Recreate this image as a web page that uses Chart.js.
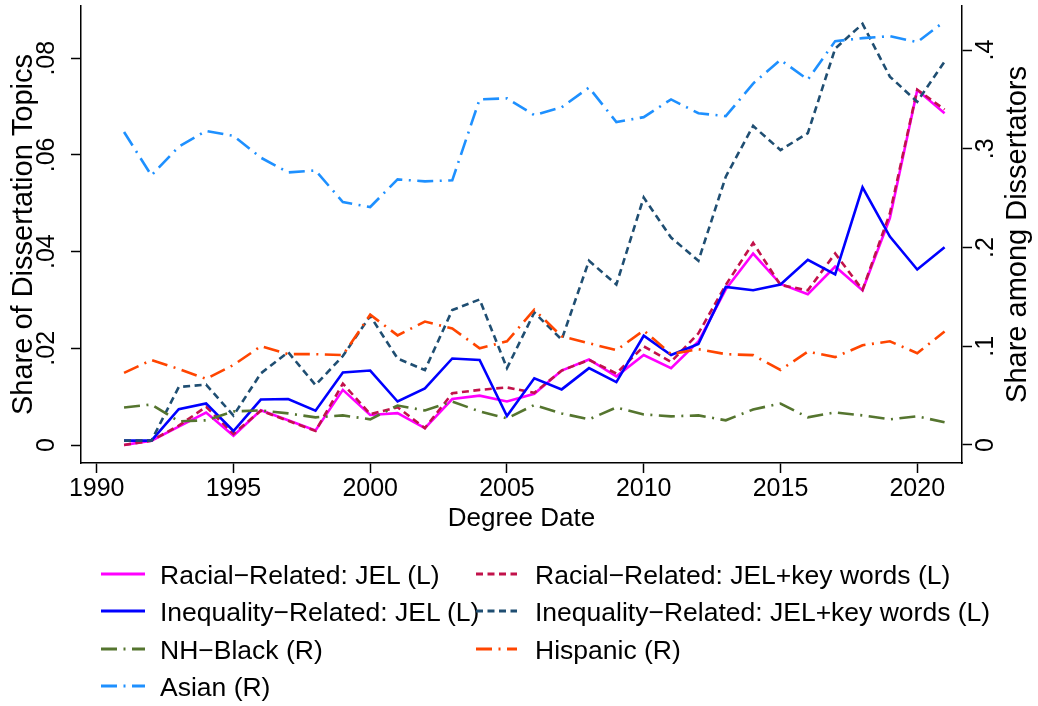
<!DOCTYPE html>
<html>
<head>
<meta charset="utf-8">
<title>Share of Dissertation Topics and Dissertators</title>
<script src="https://cdn.jsdelivr.net/npm/chart.js@4.4.1/dist/chart.umd.min.js"></script>
<style>
    body { margin: 0; background: #fff; }
    #wrap {
        position: relative;
        width: 1038px;
        height: 706px;
        font-family: 'Liberation Sans', Arial, Helvetica, sans-serif;
        color: #000;
    }
    #chart { position: absolute; left: 0; top: 0; }
    .legendSwatch { position: absolute; }
    .legendText {
        position: absolute;
        font-size: 26.5px;
        line-height: 30px;
        white-space: nowrap;
    }
</style>
</head>
<body>
<div id="wrap">
    <canvas id="chart" width="1038" height="706"></canvas>
    <div id="legend"></div>
</div>

<script>
/* Data */
const years = [1991, 1992, 1993, 1994, 1995, 1996, 1997, 1998, 1999, 2000,
    2001, 2002, 2003, 2004, 2005, 2006, 2007, 2008, 2009, 2010,
    2011, 2012, 2013, 2014, 2015, 2016, 2017, 2018, 2019, 2020, 2021]

// left axis: share of dissertation topics
const racialJel = [0.0000, 0.0009, 0.0038, 0.0067, 0.0019, 0.0072, 0.0051, 0.0030, 0.0114, 0.0062,
    0.0066, 0.0035, 0.0095, 0.0102, 0.0090, 0.0106, 0.0154, 0.0177, 0.0142, 0.0186,
    0.0159, 0.0214, 0.0322, 0.0396, 0.0333, 0.0312, 0.0369, 0.0320, 0.0469, 0.0734, 0.0686]
const racialKeyWords = [0.0000, 0.0009, 0.0040, 0.0079, 0.0023, 0.0071, 0.0050, 0.0029, 0.0127, 0.0064,
    0.0078, 0.0035, 0.0107, 0.0114, 0.0119, 0.0108, 0.0154, 0.0176, 0.0148, 0.0204,
    0.0172, 0.0231, 0.0331, 0.0418, 0.0331, 0.0320, 0.0396, 0.0321, 0.0479, 0.0735, 0.0694]
const inequalityJel = [0.0009, 0.0009, 0.0074, 0.0086, 0.0029, 0.0094, 0.0095, 0.0071, 0.0150, 0.0154,
    0.0090, 0.0117, 0.0179, 0.0176, 0.0060, 0.0138, 0.0115, 0.0159, 0.0130, 0.0226,
    0.0186, 0.0209, 0.0327, 0.0320, 0.0332, 0.0383, 0.0353, 0.0533, 0.0431, 0.0363, 0.0409]
const inequalityKeyWords = [0.0009, 0.0009, 0.0120, 0.0125, 0.0061, 0.0148, 0.0192, 0.0124, 0.0184, 0.0267,
    0.0179, 0.0155, 0.0279, 0.0301, 0.0159, 0.0274, 0.0218, 0.0381, 0.0332, 0.0512,
    0.0429, 0.0381, 0.0555, 0.0660, 0.0610, 0.0645, 0.0820, 0.0871, 0.0762, 0.0710, 0.0793]

// right axis: share among dissertators
const nhBlack = [0.038, 0.041, 0.024, 0.025, 0.034, 0.035, 0.032, 0.028, 0.030, 0.026,
    0.040, 0.035, 0.044, 0.034, 0.027, 0.0405, 0.032, 0.026, 0.038, 0.031,
    0.029, 0.030, 0.025, 0.036, 0.042, 0.028, 0.033, 0.030, 0.026, 0.029, 0.023]
const hispanic = [0.073, 0.086, 0.077, 0.067, 0.081, 0.100, 0.092, 0.092, 0.091, 0.132,
    0.111, 0.125, 0.118, 0.098, 0.105, 0.137, 0.110, 0.103, 0.096, 0.116,
    0.092, 0.097, 0.092, 0.091, 0.076, 0.0945, 0.089, 0.101, 0.105, 0.093, 0.115]
const asian = [0.317, 0.273, 0.302, 0.318, 0.313, 0.291, 0.276, 0.278, 0.246, 0.241,
    0.269, 0.267, 0.268, 0.350, 0.351, 0.334, 0.342, 0.362, 0.327, 0.332,
    0.350, 0.336, 0.333, 0.366, 0.390, 0.370, 0.409, 0.412, 0.414, 0.408, 0.429]

/* Axis ticks and titles */
const xTicks = [1990, 1995, 2000, 2005, 2010, 2015, 2020]
const leftTicks = [0, 0.02, 0.04, 0.06, 0.08]
const leftTickLabels = ['0', '.02', '.04', '.06', '.08']
const rightTicks = [0, 0.1, 0.2, 0.3, 0.4]
const rightTickLabels = ['0', '.1', '.2', '.3', '.4']
const xTitle = 'Degree Date'
const leftTitle = 'Share of Dissertation Topics'
const rightTitle = 'Share among Dissertators'

/* Line styles */
const dashed = [7, 4.5]
const dashDot = [16, 6.5, 2, 6.5]

const series = [
    { label: 'Racial−Related: JEL (L)', values: racialJel, axis: 'y', color: '#ff00ff', dash: [] },
    { label: 'Racial−Related: JEL+key words (L)', values: racialKeyWords, axis: 'y', color: '#c2124b', dash: dashed },
    { label: 'Inequality−Related: JEL (L)', values: inequalityJel, axis: 'y', color: '#0000ff', dash: [] },
    { label: 'Inequality−Related: JEL+key words (L)', values: inequalityKeyWords, axis: 'y', color: '#1f4e72', dash: dashed },
    { label: 'NH−Black (R)', values: nhBlack, axis: 'y1', color: '#55752f', dash: dashDot },
    { label: 'Hispanic (R)', values: hispanic, axis: 'y1', color: '#ff4500', dash: dashDot },
    { label: 'Asian (R)', values: asian, axis: 'y1', color: '#1e90ff', dash: dashDot }
]

const lineWidth = 2.6

/* Chart */
Chart.defaults.font.family = "'Liberation Sans', Arial, Helvetica, sans-serif"
Chart.defaults.color = '#000'

const datasets = series.map((s, i) => ({
    label: s.label,
    data: years.map((yr, k) => ({ x: yr, y: s.values[k] })),
    yAxisID: s.axis,
    borderColor: s.color,
    backgroundColor: s.color,
    borderWidth: lineWidth,
    borderDash: s.dash,
    pointRadius: 0,
    tension: 0,
    fill: false,
    order: -i // later series drawn on top
}))

// shared look of the three axes
const axisLook = {
    grid: { drawOnChartArea: false, tickLength: 10, tickWidth: 1.5, tickColor: '#000' },
    border: { display: true, color: '#000', width: 1.5 }
}

const noPadding = (scale) => {
    scale.paddingTop = 0
    scale.paddingBottom = 0
    scale.paddingLeft = 0
    scale.paddingRight = 0
}

/* right axis title reads bottom to top like the left one */
const rightTitlePlugin = {
    id: 'rightTitle',
    afterDraw(chart) {
        const { ctx, chartArea } = chart
        const scale = chart.scales.y1
        ctx.save()
        ctx.translate(scale.right - 20, (chartArea.top + chartArea.bottom) / 2)
        ctx.rotate(-Math.PI / 2)
        ctx.font = "29px 'Liberation Sans', Arial, Helvetica, sans-serif"
        ctx.fillStyle = '#000'
        ctx.textAlign = 'center'
        ctx.textBaseline = 'middle'
        ctx.fillText(rightTitle, 0, 0)
        ctx.restore()
    }
}

const ctx = document.getElementById('chart').getContext('2d')
const chart = new Chart(ctx, {
    type: 'line',
    data: { datasets: datasets },
    options: {
        responsive: false,
        animation: false,
        devicePixelRatio: 1,
        layout: { padding: { top: 6, left: 0, right: 0, bottom: 166 } },
        plugins: {
            legend: { display: false },
            tooltip: { enabled: false }
        },
        scales: {
            x: {
                type: 'linear',
                min: 1989.426,
                max: 2021.637,
                ...axisLook,
                afterBuildTicks: (scale) => { scale.ticks = xTicks.map(v => ({ value: v })) },
                ticks: {
                    autoSkip: false,
                    minRotation: 0,
                    maxRotation: 0,
                    padding: 1,
                    font: { size: 25 },
                    callback: (value) => String(value)
                },
                title: {
                    display: true,
                    text: xTitle,
                    font: { size: 26 },
                    padding: { top: 0, bottom: 6 }
                },
                afterFit: (scale) => {
                    scale.height = 77
                    noPadding(scale)
                }
            },
            y: {
                type: 'linear',
                position: 'left',
                min: -0.003723,
                max: 0.0908,
                ...axisLook,
                afterBuildTicks: (scale) => { scale.ticks = leftTicks.map(v => ({ value: v })) },
                ticks: {
                    minRotation: 90,
                    maxRotation: 90,
                    crossAlign: 'center',
                    padding: 7,
                    font: { size: 25 },
                    callback: (value, index) => leftTickLabels[index]
                },
                title: {
                    display: true,
                    text: leftTitle,
                    font: { size: 29 },
                    padding: { top: 7, bottom: 0 }
                },
                afterFit: (scale) => {
                    scale.width = 81
                    noPadding(scale)
                }
            },
            y1: {
                type: 'linear',
                position: 'right',
                min: -0.01823,
                max: 0.44456,
                ...axisLook,
                afterBuildTicks: (scale) => { scale.ticks = rightTicks.map(v => ({ value: v })) },
                ticks: {
                    minRotation: 90,
                    maxRotation: 90,
                    crossAlign: 'center',
                    padding: 4,
                    font: { size: 25 },
                    callback: (value, index) => rightTickLabels[index]
                },
                afterFit: (scale) => {
                    scale.width = 76
                    noPadding(scale)
                }
            }
        }
    },
    plugins: [rightTitlePlugin]
})

/* Legend below the chart, two columns */
const legendBox = document.getElementById('legend')
const swatchX = [101, 476]
const swatchW = [44, 41]
const textX = [160, 535]
const firstRowY = 574
const rowStep = 37.3

series.forEach((s, i) => {
    const col = i % 2
    const row = Math.floor(i / 2)
    const rowY = firstRowY + row * rowStep

    const svgNS = 'http://www.w3.org/2000/svg'
    const svg = document.createElementNS(svgNS, 'svg')
    svg.setAttribute('class', 'legendSwatch')
    svg.setAttribute('width', swatchW[col])
    svg.setAttribute('height', 8)
    svg.style.left = swatchX[col] + 'px'
    svg.style.top = (rowY - 4) + 'px'
    const line = document.createElementNS(svgNS, 'line')
    line.setAttribute('x1', 0)
    line.setAttribute('y1', 4)
    line.setAttribute('x2', swatchW[col])
    line.setAttribute('y2', 4)
    line.setAttribute('stroke', s.color)
    line.setAttribute('stroke-width', lineWidth + 0.4)
    if (s.dash.length) line.setAttribute('stroke-dasharray', s.dash.join(' '))
    svg.appendChild(line)
    legendBox.appendChild(svg)

    const text = document.createElement('span')
    text.className = 'legendText'
    text.textContent = s.label
    text.style.left = textX[col] + 'px'
    text.style.top = (rowY - 14) + 'px'
    legendBox.appendChild(text)
})
</script>
</body>
</html>
